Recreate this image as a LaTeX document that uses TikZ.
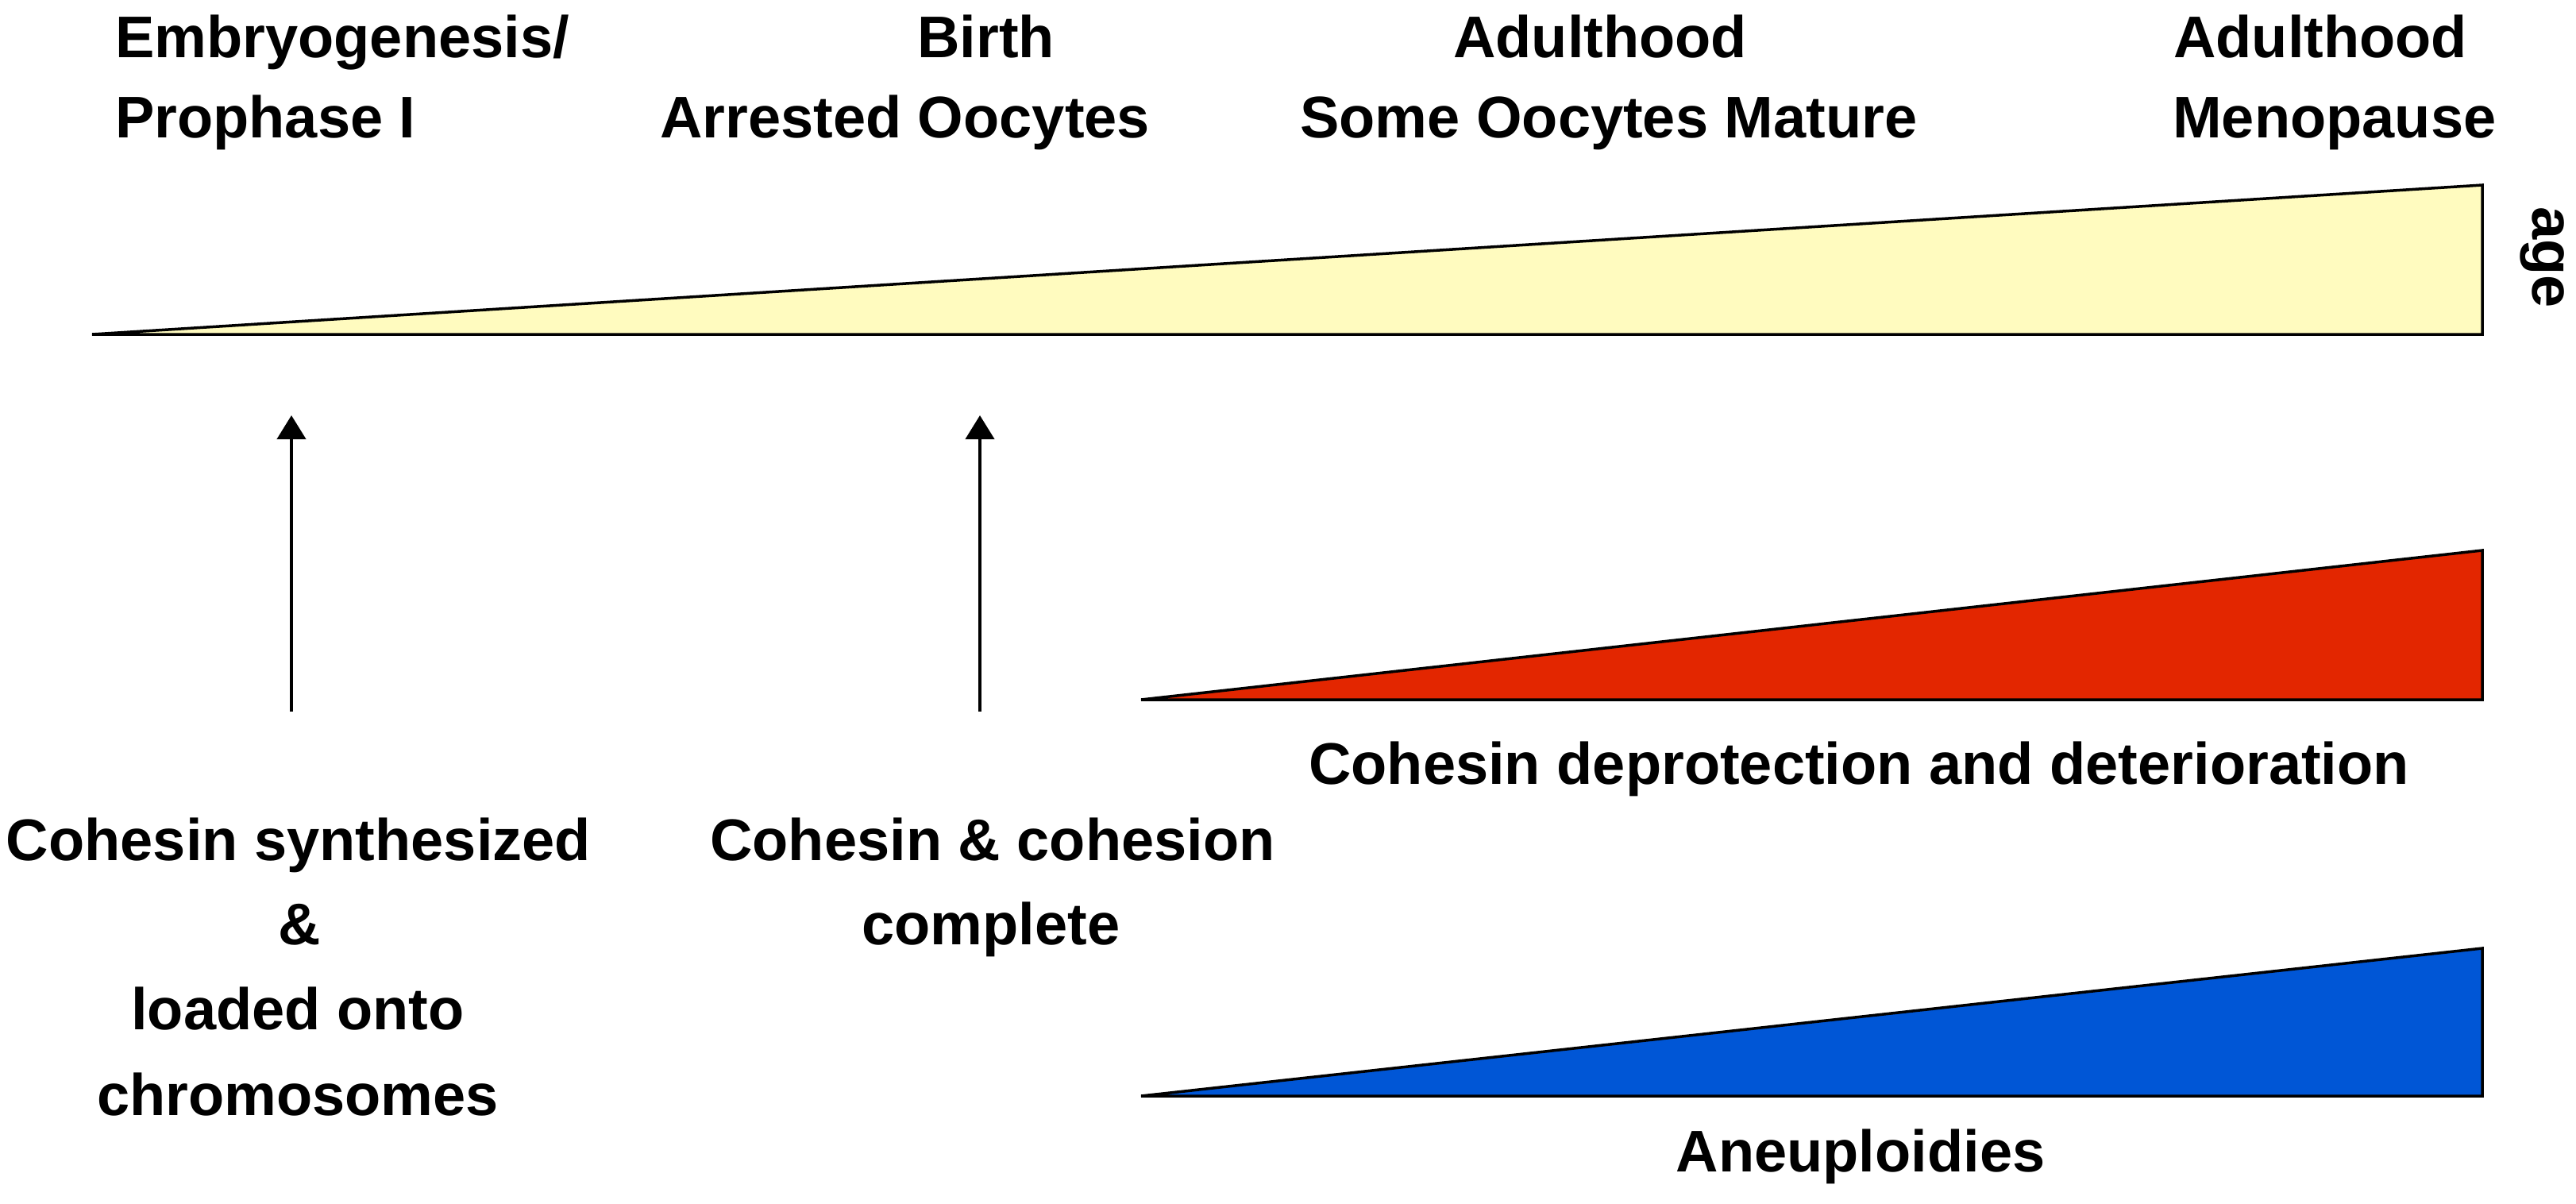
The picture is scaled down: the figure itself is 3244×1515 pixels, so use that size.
\documentclass[tikz,border=0pt]{standalone}
\usepackage{fontspec}
\setmainfont{Liberation Sans}
\usetikzlibrary{arrows.meta}
\definecolor{ageyellow}{RGB}{255,251,191}
\definecolor{cohred}{RGB}{227,38,0}
\definecolor{aneublue}{RGB}{0,86,214}
\tikzset{
  lbl/.style={inner sep=0pt, font=\bfseries\fontsize{74}{88}\selectfont, text=black},
  wedge/.style={draw=black, line width=3.5pt, line join=miter},
  uparrow/.style={line width=4pt, -{Triangle[width=36pt,length=30pt]}}
}
\begin{document}
\begin{tikzpicture}[x=1pt,y=-1pt]
\useasboundingbox (0,0) rectangle (3244,1515);
% header labels
\node[lbl, anchor=base west] (h1a) at (145,72) {Embryogenesis/};
\node[lbl, anchor=base west] (h1b) at (145,173) {Prophase I};
\node[lbl, anchor=base west] (h2a) at (1155,72) {Birth};
\node[lbl, anchor=base west] (h2b) at (831,173) {Arrested Oocytes};
\node[lbl, anchor=base west] (h3a) at (1830,72) {Adulthood};
\node[lbl, anchor=base west] (h3b) at (1637,173) {Some Oocytes Mature};
\node[lbl, anchor=base west] (h4a) at (2737,72) {Adulthood};
\node[lbl, anchor=base west] (h4b) at (2736,173) {Menopause};
% age wedge
\coordinate (ya) at (116,421);
\coordinate (yb) at (3126,233);
\coordinate (yc) at (3126,421);
\draw[wedge, fill=ageyellow] (ya) -- (yb) -- (yc) -- cycle;
\node[lbl, anchor=base, rotate=-90] (age) at (3189,324) {age};
% red wedge
\coordinate (ra) at (1437,881);
\coordinate (rb) at (3126,693);
\coordinate (rc) at (3126,881);
\draw[wedge, fill=cohred] (ra) -- (rb) -- (rc) -- cycle;
\node[lbl, anchor=base] (rl) at (2341,987) {Cohesin deprotection and deterioration};
% blue wedge
\coordinate (ba) at (1437,1380);
\coordinate (bb) at (3126,1194);
\coordinate (bc) at (3126,1380);
\draw[wedge, fill=aneublue] (ba) -- (bb) -- (bc) -- cycle;
\node[lbl, anchor=base] (bl) at (2343,1475) {Aneuploidies};
% arrows
\coordinate (a1s) at (367,896);
\coordinate (a1e) at (367,523);
\coordinate (a2s) at (1234,896);
\coordinate (a2e) at (1234,523);
\draw[uparrow] (a1s) -- (a1e);
\draw[uparrow] (a2s) -- (a2e);
% bottom labels
\node[lbl, anchor=base] (c1a) at (376,1083) {Cohesin synthesized};
\node[lbl, anchor=base] (c1b) at (377,1189) {\&};
\node[lbl, anchor=base] (c1c) at (375,1296) {loaded onto};
\node[lbl, anchor=base] (c1d) at (375,1404) {chromosomes};
\node[lbl, anchor=base] (c2a) at (1250,1083) {Cohesin \& cohesion};
\node[lbl, anchor=base] (c2b) at (1248,1189) {complete};
\end{tikzpicture}
\end{document}
